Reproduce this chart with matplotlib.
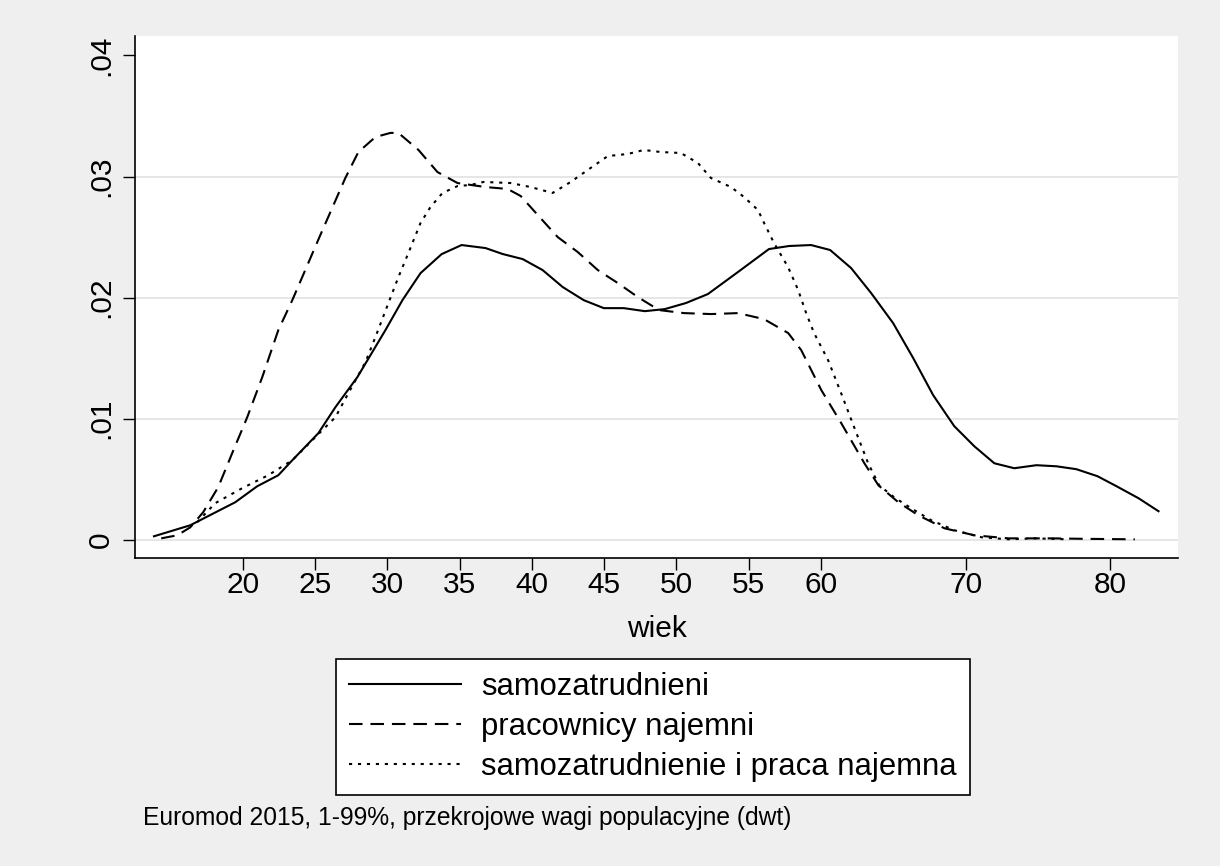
import numpy as np
import matplotlib
matplotlib.use("Agg")
import matplotlib.pyplot as plt

plt.rcParams['font.family'] = ['Liberation Sans', 'DejaVu Sans']

# samozatrudnieni (solid)
age_self = [13.85, 16.36, 19.47, 20.99, 22.45, 23.42, 25.22, 26.40, 27.92, 29.86,
            31.04, 32.29, 33.75, 35.13, 36.79, 37.97, 39.36, 40.74, 42.13, 43.58,
            44.97, 46.35, 47.81, 49.19, 50.65, 52.17, 54.25, 56.40, 57.79, 59.31,
            60.63, 62.08, 63.47, 64.99, 66.38, 67.76, 69.22, 70.60, 71.99, 73.37,
            74.90, 76.29, 77.67, 79.13, 80.45, 81.97, 83.35]
dens_self = [0.00029, 0.00120, 0.00310, 0.00442, 0.00533, 0.00657, 0.00880, 0.01095, 0.01343, 0.01731,
             0.01979, 0.02202, 0.02359, 0.02434, 0.02409, 0.02360, 0.02318, 0.02227, 0.02087, 0.01979,
             0.01913, 0.01913, 0.01888, 0.01905, 0.01955, 0.02029, 0.02211, 0.02401, 0.02426, 0.02434,
             0.02393, 0.02244, 0.02037, 0.01789, 0.01500, 0.01194, 0.00938, 0.00773, 0.00632, 0.00591,
             0.00616, 0.00607, 0.00583, 0.00525, 0.00442, 0.00343, 0.00236]

# pracownicy najemni (dashed)
age_emp = [14.35, 15.46, 16.36, 17.25, 18.29, 19.26, 20.30, 21.34, 22.45, 23.42,
           25.36, 27.09, 27.99, 29.17, 30.21, 30.76, 32.15, 33.46, 34.85, 36.79,
           38.32, 39.22, 40.40, 41.78, 43.17, 44.56, 45.94, 47.33, 48.79, 50.52,
           52.39, 54.26, 56.06, 57.73, 58.63, 60.02, 61.40, 63.00, 63.97, 65.35,
           66.74, 68.54, 70.62, 72.97, 75.95, 78.24, 81.71]
dens_emp = [0.00012, 0.00037, 0.00103, 0.00227, 0.00434, 0.00715, 0.01012, 0.01343, 0.01731, 0.01979,
            0.02517, 0.02988, 0.03202, 0.03326, 0.03360, 0.03360, 0.03219, 0.03037, 0.02946, 0.02913,
            0.02897, 0.02839, 0.02682, 0.02500, 0.02376, 0.02227, 0.02120, 0.02004, 0.01897, 0.01872,
            0.01864, 0.01872, 0.01822, 0.01707, 0.01566, 0.01236, 0.00963, 0.00632, 0.00450, 0.00310,
            0.00202, 0.00095, 0.00037, 0.00012, 0.00012, 0.00008, 0.00004]

# samozatrudnienie i praca najemna (dotted)
age_both = [16.84, 18.08, 19.95, 21.75, 23.42, 25.01, 26.40, 27.30, 28.48, 29.17,
            30.07, 30.76, 31.45, 32.29, 32.98, 33.81, 34.85, 35.75, 36.65, 38.52,
            39.91, 41.43, 42.68, 43.86, 45.25, 46.63, 47.74, 48.92, 50.30, 51.48,
            52.38, 53.77, 54.67, 55.64, 56.06, 56.75, 57.72, 58.42, 58.97, 59.52,
            60.49, 61.39, 62.29, 63.26, 64.02, 65.06, 66.24, 67.63, 69.22, 71.10,
            72.96, 74.77, 77.12]
dens_both = [0.00145, 0.00302, 0.00426, 0.00533, 0.00657, 0.00847, 0.01012, 0.01211, 0.01467, 0.01674,
             0.01955, 0.02169, 0.02368, 0.02616, 0.02748, 0.02864, 0.02921, 0.02930, 0.02955, 0.02946,
             0.02913, 0.02864, 0.02955, 0.03054, 0.03169, 0.03186, 0.03219, 0.03202, 0.03194, 0.03112,
             0.02988, 0.02913, 0.02831, 0.02723, 0.02616, 0.02450, 0.02252, 0.02062, 0.01872, 0.01707,
             0.01483, 0.01211, 0.00930, 0.00632, 0.00450, 0.00351, 0.00260, 0.00161, 0.00079, 0.00021,
             0.00004, 0.00012, 0.00004]

labels = ['samozatrudnieni', 'pracownicy najemni', 'samozatrudnienie i praca najemna']
x_ticks = [20, 25, 30, 35, 40, 45, 50, 55, 60, 70, 80]
y_ticks = [0, 0.01, 0.02, 0.03, 0.04]
y_ticklabels = ['0', '.01', '.02', '.03', '.04']
caption = 'Euromod 2015, 1-99%, przekrojowe wagi populacyjne (dwt)'

fig = plt.figure(figsize=(12.2, 8.66), dpi=100, facecolor='#efefef')
ax = fig.add_axes([0.1107, 0.3557, 0.8549, 0.6027])
ax.set_facecolor('white')

lw = 1.5
ax.plot(age_self, dens_self, color='black', lw=lw, label=labels[0])
ax.plot(age_emp, dens_emp, color='black', lw=lw, dashes=(6.5, 3.8), label=labels[1])
ax.plot(age_both, dens_both, color='black', lw=lw, dashes=(1.5, 2.8), label=labels[2])

ax.set_xlim(12.54, 84.7)
ax.set_ylim(-0.0015, 0.0416)

ax.set_xticks(x_ticks)
ax.set_xticklabels([str(t) for t in x_ticks])
ax.set_yticks(y_ticks)
ax.set_yticklabels(y_ticklabels, rotation=90, va='center')

ax.tick_params(axis='both', direction='out', length=8.6, width=1.0, labelsize=21.5, colors='black')
ax.tick_params(axis='x', pad=1)
ax.tick_params(axis='y', pad=6)

ax.grid(axis='y', color='#e6e6e6', lw=1.4)
ax.get_ygridlines()[-1].set_visible(False)
ax.set_axisbelow(True)

for s in ['top', 'right']:
    ax.spines[s].set_visible(False)
for s in ['left', 'bottom']:
    ax.spines[s].set_linewidth(1.2)

ax.set_xlabel('wiek', fontsize=21.5, labelpad=11)

leg = fig.legend(loc='center', bbox_to_anchor=(653 / 1220, 1 - 727 / 866),
                 fontsize=22.3, handlelength=3.6, handletextpad=0.65,
                 labelspacing=0.33, borderpad=0.42, fancybox=False, framealpha=1,
                 edgecolor='black')
leg.get_frame().set_linewidth(1.2)

fig.text(143 / 1220, 1 - 818 / 866, caption, fontsize=17.7, ha='left', va='center')

fig.savefig('out.png', dpi=100, facecolor=fig.get_facecolor())
